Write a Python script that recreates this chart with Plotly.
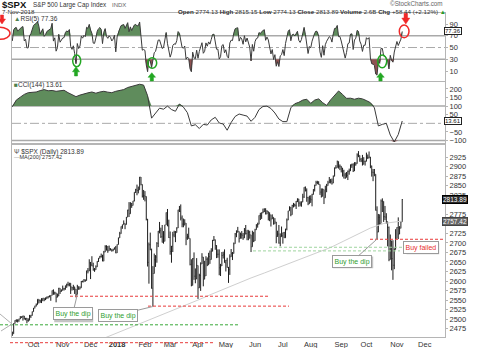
import numpy as np
import pandas as pd
import plotly.graph_objects as go

# ---------------- data ----------------
warmup_close = [2444.2, 2446.3, 2457.6, 2471.7, 2476.6, 2457.9, 2465.5, 2465.1]

closes = [
    # Sep 2017 (from Sep 8)
    2461.4, 2488.1, 2496.5, 2498.4, 2495.6, 2500.2, 2503.9, 2506.7, 2508.2, 2500.6, 2502.2, 2496.7, 2496.8, 2507.0, 2510.1, 2519.4,
    # Oct 2017
    2529.1, 2534.6, 2537.7, 2552.1, 2549.3, 2544.7, 2550.6, 2555.2, 2550.9, 2553.2, 2557.6, 2559.4, 2561.3, 2562.1, 2575.2, 2565.0, 2569.1, 2557.2, 2560.4, 2581.1, 2572.8, 2575.3,
    # Nov 2017
    2579.4, 2579.9, 2587.8, 2591.1, 2590.6, 2594.4, 2584.6, 2582.3, 2584.8, 2578.9, 2564.6, 2585.6, 2578.9, 2582.1, 2599.0, 2597.1, 2602.4, 2601.4, 2627.0, 2626.1, 2647.6,
    # Dec 2017
    2642.2, 2639.4, 2629.6, 2629.3, 2637.0, 2651.5, 2660.0, 2664.1, 2662.9, 2652.0, 2675.8, 2690.2, 2681.5, 2679.3, 2684.6, 2683.3, 2680.5, 2682.6, 2687.5, 2673.6,
    # Jan 2018
    2695.8, 2713.1, 2724.0, 2743.2, 2747.7, 2751.3, 2748.2, 2767.6, 2786.2, 2776.4, 2802.6, 2798.0, 2810.3, 2833.0, 2839.1, 2837.5, 2839.3, 2872.9, 2853.5, 2822.4, 2823.8,
    # Feb 2018
    2822.0, 2762.1, 2648.9, 2695.1, 2681.7, 2581.0, 2619.6, 2656.0, 2662.9, 2698.6, 2731.2, 2732.2, 2716.3, 2701.3, 2704.0, 2747.3, 2779.6, 2744.3, 2713.8,
    # Mar 2018
    2677.7, 2691.3, 2720.9, 2728.1, 2726.8, 2739.0, 2786.6, 2783.0, 2765.3, 2749.5, 2747.3, 2752.0, 2712.9, 2716.9, 2711.9, 2643.7, 2588.3, 2658.6, 2612.6, 2605.0, 2640.9,
    # Apr 2018
    2581.9, 2614.5, 2644.7, 2662.8, 2604.5, 2613.2, 2656.9, 2642.2, 2664.0, 2656.3, 2677.8, 2706.4, 2708.6, 2693.1, 2670.1, 2670.3, 2634.6, 2639.4, 2666.9, 2669.9, 2648.1,
    # May 2018
    2654.8, 2635.7, 2629.7, 2663.4, 2672.6, 2671.9, 2697.8, 2723.1, 2727.7, 2730.1, 2711.5, 2722.5, 2720.1, 2713.0, 2733.0, 2724.4, 2733.3, 2727.8, 2721.3, 2689.9, 2724.0, 2705.3,
    # Jun 2018
    2734.6, 2746.9, 2748.8, 2772.4, 2770.4, 2779.0, 2782.0, 2786.9, 2775.6, 2782.5, 2779.7, 2773.9, 2762.6, 2767.3, 2749.8, 2754.9, 2717.1, 2723.1, 2699.6, 2716.3, 2718.4,
    # Jul 2018
    2726.7, 2713.2, 2736.6, 2759.8, 2784.2, 2793.8, 2774.0, 2798.3, 2801.3, 2798.4, 2809.6, 2815.6, 2804.5, 2801.8, 2807.0, 2820.4, 2846.1, 2837.4, 2818.8, 2802.6, 2816.3,
    # Aug 2018
    2813.4, 2827.2, 2840.4, 2850.4, 2858.5, 2857.7, 2853.6, 2833.3, 2821.9, 2840.0, 2818.4, 2840.7, 2850.1, 2857.1, 2863.0, 2861.8, 2857.0, 2874.7, 2896.7, 2897.5, 2914.0, 2901.1, 2901.5,
    # Sep 2018
    2896.7, 2888.6, 2878.1, 2871.7, 2877.1, 2887.9, 2888.9, 2904.2, 2905.0, 2888.8, 2904.3, 2908.0, 2930.8, 2929.7, 2919.4, 2915.6, 2906.0, 2914.0, 2914.0,
    # Oct 2018
    2924.6, 2923.4, 2925.5, 2901.6, 2885.6, 2884.4, 2880.3, 2785.7, 2728.4, 2767.1, 2750.8, 2809.9, 2809.2, 2768.8, 2767.8, 2755.9, 2740.7, 2656.1, 2705.6, 2658.7, 2641.3, 2682.6, 2711.7,
    # Nov 2018
    2740.4, 2723.1, 2738.3, 2755.5, 2813.89,
]

highs = [
    2467, 2489, 2497, 2499, 2499, 2501, 2508, 2507, 2509, 2507, 2503, 2503, 2502, 2511, 2511, 2520,
    2529, 2535, 2541, 2552, 2549, 2551, 2555, 2555, 2555, 2557, 2559, 2560, 2562, 2562, 2575, 2578, 2572, 2567, 2567, 2582, 2580, 2578,
    2588, 2582, 2588, 2593, 2598, 2595, 2592, 2583, 2590, 2579, 2572, 2590, 2583, 2586, 2600, 2601, 2605, 2604, 2627, 2634, 2657,
    2650, 2665, 2648, 2634, 2641, 2652, 2660, 2666, 2672, 2669, 2679, 2694, 2694, 2692, 2693, 2686, 2682, 2685, 2688, 2692,
    2696, 2714, 2729, 2743, 2748, 2759, 2751, 2768, 2787, 2807, 2807, 2805, 2810, 2833, 2842, 2853, 2848, 2873, 2870, 2838, 2839,
    2836, 2809, 2763, 2701, 2727, 2685, 2639, 2672, 2668, 2702, 2731, 2755, 2740, 2747, 2731, 2747, 2780, 2789, 2761,
    2730, 2692, 2729, 2732, 2731, 2741, 2787, 2797, 2801, 2772, 2764, 2762, 2741, 2724, 2740, 2704, 2657, 2660, 2675, 2633, 2660,
    2638, 2619, 2649, 2673, 2656, 2653, 2665, 2662, 2674, 2680, 2686, 2708, 2718, 2703, 2694, 2683, 2683, 2645, 2676, 2677, 2683,
    2655, 2661, 2637, 2670, 2684, 2676, 2701, 2726, 2733, 2742, 2719, 2727, 2731, 2726, 2739, 2747, 2733, 2731, 2732, 2710, 2732, 2729,
    2737, 2749, 2753, 2772, 2779, 2780, 2790, 2791, 2791, 2786, 2781, 2775, 2766, 2775, 2764, 2765, 2742, 2732, 2747, 2725, 2743,
    2727, 2729, 2737, 2764, 2784, 2796, 2785, 2800, 2805, 2803, 2810, 2817, 2810, 2809, 2809, 2829, 2846, 2848, 2843, 2821, 2824,
    2825, 2829, 2841, 2853, 2863, 2863, 2862, 2842, 2843, 2843, 2827, 2850, 2855, 2863, 2873, 2868, 2869, 2877, 2898, 2904, 2916, 2912, 2906,
    2900, 2893, 2892, 2884, 2886, 2890, 2895, 2906, 2908, 2909, 2912, 2912, 2935, 2941, 2927, 2923, 2931, 2925, 2916,
    2937, 2932, 2940, 2919, 2903, 2894, 2894, 2875, 2796, 2776, 2775, 2814, 2817, 2806, 2797, 2778, 2750, 2743, 2722, 2692, 2707, 2686, 2736,
    2741, 2767, 2744, 2757, 2815.15,
]

lows = [
    2456, 2474, 2489, 2492, 2491, 2493, 2500, 2503, 2496, 2499, 2497, 2489, 2493, 2499, 2503, 2509,
    2520, 2528, 2533, 2538, 2541, 2543, 2542, 2547, 2547, 2550, 2553, 2554, 2557, 2548, 2563, 2564, 2566, 2544, 2558, 2566, 2566, 2572,
    2575, 2575, 2577, 2582, 2586, 2586, 2566, 2575, 2576, 2566, 2557, 2575, 2577, 2578, 2586, 2597, 2600, 2598, 2601, 2620, 2633,
    2605, 2639, 2627, 2624, 2630, 2640, 2650, 2659, 2662, 2652, 2659, 2685, 2680, 2674, 2683, 2680, 2677, 2678, 2684, 2673,
    2682, 2697, 2719, 2728, 2737, 2748, 2736, 2752, 2770, 2768, 2780, 2792, 2798, 2809, 2831, 2825, 2830, 2847, 2851, 2819, 2813,
    2809, 2759, 2638, 2593, 2681, 2580, 2533, 2622, 2637, 2648, 2689, 2725, 2713, 2701, 2698, 2709, 2753, 2744, 2713,
    2669, 2648, 2676, 2715, 2702, 2731, 2751, 2781, 2759, 2741, 2741, 2746, 2694, 2708, 2711, 2641, 2586, 2610, 2603, 2594, 2614,
    2553, 2585, 2574, 2649, 2586, 2610, 2635, 2639, 2648, 2645, 2665, 2688, 2705, 2682, 2660, 2661, 2615, 2613, 2648, 2659, 2648,
    2625, 2635, 2595, 2616, 2669, 2655, 2675, 2701, 2715, 2729, 2701, 2712, 2711, 2708, 2726, 2722, 2707, 2707, 2711, 2676, 2698, 2702,
    2719, 2740, 2740, 2749, 2760, 2763, 2778, 2781, 2775, 2776, 2759, 2757, 2743, 2763, 2748, 2752, 2699, 2716, 2698, 2691, 2716,
    2698, 2713, 2717, 2733, 2770, 2789, 2770, 2784, 2793, 2795, 2789, 2807, 2795, 2796, 2795, 2812, 2818, 2835, 2808, 2799, 2808,
    2805, 2796, 2827, 2835, 2855, 2854, 2853, 2826, 2819, 2826, 2802, 2831, 2833, 2853, 2859, 2856, 2853, 2862, 2885, 2895, 2898, 2895, 2891,
    2885, 2874, 2869, 2868, 2874, 2865, 2879, 2895, 2897, 2886, 2891, 2903, 2913, 2925, 2913, 2912, 2903, 2910, 2903,
    2914, 2920, 2922, 2896, 2874, 2862, 2875, 2785, 2710, 2729, 2747, 2766, 2781, 2755, 2760, 2750, 2691, 2652, 2667, 2628, 2603, 2631, 2685,
    2716, 2710, 2723, 2738, 2774.13,
]

# CCI(144) every 3rd trading day
cci_every3 = [
    96, 135, 152, 168, 178, 178, 182, 190, 196, 189,
    191, 186, 190, 192, 178, 166, 155, 164, 172, 177,
    182, 175, 182, 186, 181, 178, 186, 190, 196, 208,
    215, 221, 227, 222, 160, 30, 62, 88, 82, 100,
    80, 70, 112, 94, 62, -15, -8, -30, -6, -10,
    20, 35, 2, -4, -40, 5, 40, 54, 48, 42,
    12, 35, 80, 98, 100, 86, 60, 25, 10, 10,
    90, 114, 122, 135, 140, 116, 135, 142, 120, 104,
    136, 160, 188, 168, 145, 146, 140, 146, 142, 132,
    120, 90, -15, -6, 0, -68, -108, -65, 13.61,
]

# MA(200) (every 10th trading day from the 70th, plus last day)
ma200_values = [2451, 2465, 2479, 2493, 2507, 2522, 2536, 2550, 2565, 2580, 2595, 2608,
                2621, 2634, 2648, 2661, 2674, 2688, 2705, 2722, 2739, 2751, 2755, 2757.42]

holidays = ["2017-11-23", "2017-12-25", "2018-01-01", "2018-01-15", "2018-02-19",
            "2018-03-30", "2018-05-28", "2018-07-04", "2018-09-03"]
future_holidays = ["2018-11-22", "2018-12-25"]

month_ticks = ["2017-10-02", "2017-11-01", "2017-12-01", "2018-01-02", "2018-02-01", "2018-03-01",
               "2018-04-02", "2018-05-01", "2018-06-01", "2018-07-02", "2018-08-01", "2018-09-04",
               "2018-10-01", "2018-11-01", "2018-12-03"]
month_labels = ["Oct", "Nov", "Dec", "<b>2018</b>", "Feb", "Mar", "Apr", "May", "Jun", "Jul",
                "Aug", "Sep", "Oct", "Nov", "Dec"]

rsi_ticks = [10, 30, 50, 70, 90]
cci_ticks = [-100, -50, 50, 100, 150, 200]
price_ticks = [2475, 2500, 2525, 2550, 2575, 2600, 2625, 2650, 2675, 2700, 2725, 2775, 2825,
               2850, 2875, 2900, 2925]

# ---------------- derived ----------------
dates = [d for d in pd.bdate_range("2017-09-08", "2018-11-07") if d.strftime("%Y-%m-%d") not in holidays]
N = len(dates)
assert N == len(closes) == len(highs) == len(lows) == 295

opens = [warmup_close[-1]] + closes[:-1]
highs = [max(h, o, c) for h, o, c in zip(highs, opens, closes)]
lows = [min(l, o, c) for l, o, c in zip(lows, opens, closes)]

# RSI(5), Wilder smoothing
allc = np.array(warmup_close + closes, dtype=float)
d = np.diff(allc)
g = np.clip(d, 0, None)
ls = np.clip(-d, 0, None)
n = 5
ag, al = g[:n].mean(), ls[:n].mean()
rsi_all = [np.nan] * (n + 1)
rsi_all[n] = 100 - 100 / (1 + ag / al)
for i in range(n, len(d)):
    ag = (ag * (n - 1) + g[i]) / n
    al = (al * (n - 1) + ls[i]) / n
    rsi_all.append(100 - 100 / (1 + ag / al) if al > 0 else 100)
rsi = np.array(rsi_all[len(warmup_close):])

cci_dates = dates[0::3]
cci = np.array(cci_every3, dtype=float)
ma_dates = [dates[i] for i in list(range(70, 291, 10)) + [294]]

# ---------------- figure ----------------
FONT = "Liberation Sans, Arial, sans-serif"
GREEN_FILL = "#5f8c5c"
RED_FILL = "#8e5252"
LINE = "#3a3a3a"
REF = "#a9a9a9"

fig = go.Figure()

# RSI panel
fig.add_trace(go.Scatter(x=dates, y=[70] * N, mode="lines", line=dict(width=0), xaxis="x", yaxis="y", hoverinfo="skip"))
fig.add_trace(go.Scatter(x=dates, y=np.maximum(rsi, 70), mode="lines", line=dict(width=0), fill="tonexty",
                         fillcolor=GREEN_FILL, xaxis="x", yaxis="y", hoverinfo="skip"))
fig.add_trace(go.Scatter(x=dates, y=[30] * N, mode="lines", line=dict(width=0), xaxis="x", yaxis="y", hoverinfo="skip"))
fig.add_trace(go.Scatter(x=dates, y=np.minimum(rsi, 30), mode="lines", line=dict(width=0), fill="tonexty",
                         fillcolor=RED_FILL, xaxis="x", yaxis="y", hoverinfo="skip"))
fig.add_trace(go.Scatter(x=dates, y=rsi, mode="lines", line=dict(color=LINE, width=1), xaxis="x", yaxis="y"))

# CCI panel
nc = len(cci_dates)
fig.add_trace(go.Scatter(x=cci_dates, y=[100] * nc, mode="lines", line=dict(width=0), xaxis="x2", yaxis="y2", hoverinfo="skip"))
fig.add_trace(go.Scatter(x=cci_dates, y=np.maximum(cci, 100), mode="lines", line=dict(width=0), fill="tonexty",
                         fillcolor=GREEN_FILL, xaxis="x2", yaxis="y2", hoverinfo="skip"))
fig.add_trace(go.Scatter(x=cci_dates, y=[-100] * nc, mode="lines", line=dict(width=0), xaxis="x2", yaxis="y2", hoverinfo="skip"))
fig.add_trace(go.Scatter(x=cci_dates, y=np.minimum(cci, -100), mode="lines", line=dict(width=0), fill="tonexty",
                         fillcolor=RED_FILL, xaxis="x2", yaxis="y2", hoverinfo="skip"))
fig.add_trace(go.Scatter(x=cci_dates, y=cci, mode="lines", line=dict(color=LINE, width=1), xaxis="x2", yaxis="y2"))

# Price panel
fig.add_trace(go.Scatter(x=ma_dates, y=ma200_values, mode="lines", line=dict(color="#cfcfcf", width=1),
                         xaxis="x3", yaxis="y3"))
fig.add_trace(go.Ohlc(x=dates, open=opens, high=highs, low=lows, close=closes,
                      increasing=dict(line=dict(color="#1c1c1c", width=1)),
                      decreasing=dict(line=dict(color="#1c1c1c", width=1)),
                      tickwidth=0.3, xaxis="x3", yaxis="y3"))

# layout / axes
W, H = 480, 348
ML, MR, MT, MB = 12, 35, 13, 11
PW, PH = W - ML - MR, H - MT - MB


def PX(x):
    return (x - ML) / PW


def PY(y):
    return (H - MB - y) / PH


rb = [dict(bounds=["sat", "mon"]), dict(values=holidays + future_holidays)]
xrange_ = ["2017-09-07 18:00", "2018-12-24 06:00"]
axis_common = dict(showline=True, linecolor="#b5b5b5", linewidth=1, mirror=True, showgrid=False,
                   zeroline=False, automargin=False)
ytick_common = dict(side="right", ticks="outside", ticklen=2, tickcolor="#b5b5b5",
                    tickfont=dict(size=7.5, color="#333", family=FONT))

fig.update_layout(
    width=W, height=H, margin=dict(l=ML, r=MR, t=MT, b=MB, autoexpand=False),
    paper_bgcolor="white", plot_bgcolor="white", showlegend=False, hovermode=False,
    font=dict(family=FONT, size=8, color="#222"),
    xaxis=dict(domain=[0, 1], anchor="y", matches="x3", showticklabels=False, range=xrange_,
               rangebreaks=rb, **axis_common),
    xaxis2=dict(domain=[0, 1], anchor="y2", matches="x3", showticklabels=False, range=xrange_,
                rangebreaks=rb, **axis_common),
    xaxis3=dict(domain=[0, 1], anchor="y3", range=xrange_, rangebreaks=rb, rangeslider=dict(visible=False),
                tickvals=month_ticks, ticktext=month_labels, ticks="", tickangle=0,
                tickfont=dict(size=7.5, color="#333", family=FONT), **axis_common),
    yaxis=dict(domain=[PY(81.4), 1], range=[-7.7, 108.8], tickvals=rsi_ticks, **ytick_common, **axis_common),
    yaxis2=dict(domain=[PY(144), PY(82)], range=[-120, 240], tickvals=cci_ticks,
                **ytick_common, **axis_common),
    yaxis3=dict(domain=[0, PY(144)], range=[2453, 2959.6], tickvals=price_ticks,
                **ytick_common, **axis_common),
)

shapes = []
# indicator reference lines
for yv, dash, w in [(70, "solid", 1.5), (30, "solid", 1.5), (50, "dashdot", 1)]:
    shapes.append(dict(type="line", xref="x domain", x0=0, x1=1, yref="y", y0=yv, y1=yv, layer="below",
                       line=dict(color=REF, width=w, dash=dash)))
for yv, dash, w in [(100, "solid", 1.5), (-100, "solid", 1.5), (0, "dashdot", 1)]:
    shapes.append(dict(type="line", xref="x2 domain", x0=0, x1=1, yref="y2", y0=yv, y1=yv, layer="below",
                       line=dict(color=REF, width=w, dash=dash)))

# hand-drawn support lines on price panel
support = [
    (2485, 0, 240, "#3aa83a"),
    (2560, 70, 270, "#e83a3a"),
    (2534, 148, 289, "#e83a3a"),
    (2709.5, 370, 445, "#e83a3a"),
    (2688.5, 269, 404, "#9fd49f"),
    (2679, 253, 400, "#9fd49f"),
]
for yv, x0, x1, col in support:
    shapes.append(dict(type="line", xref="paper", x0=PX(x0), x1=PX(x1), yref="y3", y0=yv, y1=yv,
                       line=dict(color=col, width=1, dash="3px,2px")))
shapes.append(dict(type="line", xref="paper", yref="paper", x0=PX(10), x1=PX(213), y0=PY(342.7), y1=PY(342.7),
                   line=dict(color="#e83a3a", width=1, dash="3px,2px")))
# partial callout at far left
for (xa, ya) in [(0, 314), (1, 331)]:
    shapes.append(dict(type="line", xref="paper", yref="paper", x0=PX(xa), y0=PY(ya), x1=PX(12), y1=PY(324),
                       line=dict(color="#b0b0b0", width=1)))

# ellipses on RSI
GREEN_MK = "#22a722"
RED_MK = "#f02828"
for (x0, x1, y0, y1, col) in [(72.7, 80.7, 55, 66.7, GREEN_MK), (147.7, 156.7, 57.7, 68.3, GREEN_MK),
                              (377.7, 386.7, 55, 67.7, GREEN_MK), (399.3, 409, 25, 37.7, RED_MK),
                              (-10, 10, 27.3, 39.3, RED_MK)]:
    shapes.append(dict(type="circle", xref="paper", yref="paper", x0=PX(x0), x1=PX(x1), y0=PY(y1), y1=PY(y0),
                       line=dict(color=col, width=1.5)))


def block_arrow(cx, ytip, ybase, w, col):
    hw = w / 2
    sw = w * 0.22
    yh = ytip + (ybase - ytip) * 0.55
    pts = [(cx, ytip), (cx + hw, yh), (cx + sw, yh), (cx + sw, ybase), (cx - sw, ybase), (cx - sw, yh), (cx - hw, yh)]
    path = "M " + " L ".join(f"{PX(x):.5f},{PY(y):.5f}" for x, y in pts) + " Z"
    return dict(type="path", xref="paper", yref="paper", path=path, fillcolor=col, line=dict(color=col, width=0.5))


shapes.append(block_arrow(76, 66.7, 76, 7, GREEN_MK))
shapes.append(block_arrow(151.8, 72.7, 81, 7.5, GREEN_MK))
shapes.append(block_arrow(380.5, 72.7, 81, 7.5, GREEN_MK))
shapes.append(block_arrow(405.8, 24, 13.3, 8, RED_MK))
shapes.append(block_arrow(2, 24, 15, 7, RED_MK))

# callout box shadows
for (x0, x1, y0, y1) in [(54.2, 93.2, 311.5, 322.2), (100.8, 136.5, 310.8, 320.8), (333.2, 373.2, 256.5, 268.2),
                         (406.5, 439.2, 243.2, 254.2)]:
    shapes.append(dict(type="rect", xref="paper", yref="paper", x0=PX(x0), x1=PX(x1), y0=PY(y1), y1=PY(y0),
                       line=dict(width=0), fillcolor="#c4c4c4", layer="above"))
fig.update_layout(shapes=shapes)

ann = []


def txt(x, y, s, size=7, color="#222", anchor="left", **kw):
    ann.append(dict(xref="paper", yref="paper", x=PX(x), y=PY(y), text=s, showarrow=False, xanchor=anchor,
                    yanchor="middle", font=dict(size=size, color=color, family=FONT), borderpad=0, **kw))


# header
txt(1, 4.3, "<b>$SPX</b>", size=9.5, color="#111")
txt(31.5, 5.0, "S&amp;P 500 Large Cap Index", size=6.3, color="#333")
txt(111, 5.0, "INDX", size=6, color="#666")
txt(1, 11.6, "7-Nov-2018", size=6.2, color="#333")
txt(447, 11.4, "<b>Open</b> 2774.13 <b>High</b> 2815.15 <b>Low</b> 2774.13 <b>Close</b> 2813.89 "
    "<b>Volume</b> 2.6B <b>Chg</b> +58.44 (+2.12%) <span style='color:#2a9a2a'>▲</span>",
    size=6.2, color="#333", anchor="right")
txt(444, 3.8, "©StockCharts.com", size=6.3, color="#666", anchor="right")

# panel legends
txt(12.5, 18.6, "<span style='color:#4f7f4f'>▲</span>RSI(5) 77.36", size=6.5, color="#333")
txt(12.5, 85.2, "<span style='color:#4f7f4f'>■</span>CCI(144) 13.61", size=6.5, color="#333")
txt(12.5, 151.6, "<span style='color:#555'>Ψ</span> $SPX (Daily) 2813.89", size=6.5, color="#333")
txt(12.5, 156.9, "<span style='color:#999'>—</span>MA(200) 2757.42", size=5.5, color="#333")

# value tags on right axis
tag_common = dict(showarrow=False, xanchor="left", yanchor="middle", borderwidth=1, borderpad=0)
ann.append(dict(xref="paper", yref="y", x=0.997, y=77.36, text="77.36",
                font=dict(size=6, color="#111", family=FONT), bgcolor="white", bordercolor="#222", **tag_common))
ann.append(dict(xref="paper", yref="y2", x=0.997, y=13.61, text="13.61",
                font=dict(size=6, color="#111", family=FONT), bgcolor="white", bordercolor="#222", **tag_common))
ann.append(dict(xref="paper", yref="y3", x=0.993, y=closes[-1], text="2813.89",
                font=dict(size=6.5, color="white", family=FONT), bgcolor="#2a2a2a", bordercolor="#000", **tag_common))
ann.append(dict(xref="paper", yref="y3", x=0.993, y=ma200_values[-1], text="2757.42",
                font=dict(size=6.5, color="white", family=FONT), bgcolor="#666", bordercolor="#444", **tag_common))

# callouts
call_font = dict(size=7, color="#2f9e2f", family=FONT)
for di, price, ax, ay in [(49, lows[49], -4.5, 19), (106, lows[106], -35, 8.5), (275, lows[275], -25, 22.5)]:
    ann.append(dict(xref="x3", yref="y3", x=dates[di], y=price, text="Buy the dip", showarrow=True,
                    arrowhead=0, arrowwidth=1, arrowcolor="#9a9a9a", ax=ax, ay=ay,
                    bgcolor="white", bordercolor="#9a9a9a", borderwidth=1, borderpad=1.5, font=call_font))
ann.append(dict(xref="paper", yref="paper", x=PX(421.3), y=PY(247.2), text="Buy failed", showarrow=False,
                xanchor="center", yanchor="middle",
                bgcolor="white", bordercolor="#9a9a9a", borderwidth=1, borderpad=1.5,
                font=dict(size=7, color="#e83030", family=FONT)))

fig.update_layout(annotations=ann)
fig.write_html("out.html")
